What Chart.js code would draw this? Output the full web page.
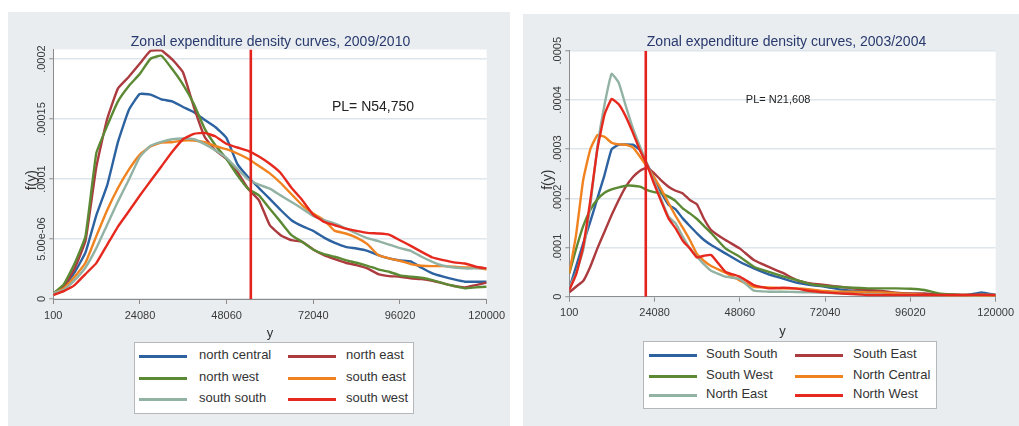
<!DOCTYPE html>
<html>
<head>
<meta charset="utf-8">
<title>Zonal expenditure density curves</title>
<script src="https://cdn.jsdelivr.net/npm/chart.js@4.4.1/dist/chart.umd.min.js"></script>
<style>
  html, body { margin: 0; padding: 0; background: #fff; width: 1019px; height: 426px; overflow: hidden;
               font-family: "Liberation Sans", Arial, sans-serif; }
  .panel { position: absolute; background: #e9edf0; overflow: hidden; }
  .panel canvas { position: absolute; left: 0; top: 0; }
  .legend { position: absolute; background: #fff; border: 1px solid #b4b8bb; box-sizing: border-box; }
  .legend .swatch { position: absolute; height: 3px; }
  .legend .name { position: absolute; font-size: 13px; color: #333; white-space: nowrap; line-height: 14px; }
</style>
</head>
<body>
<div class="panel" style="left:8px;top:12px;width:502px;height:414px;">
  <canvas id="c0910" width="502" height="330" style="width:502px;height:330px;"></canvas>
  <div class="legend" id="l0910" style="left:126px;top:330px;width:280px;height:72px;"></div>
</div>
<div class="panel" style="left:523px;top:14px;width:496px;height:412px;">
  <canvas id="c0304" width="496" height="326" style="width:496px;height:326px;"></canvas>
  <div class="legend" id="l0304" style="left:120px;top:327px;width:294px;height:68px;"></div>
</div>

<script>
// Kernel density estimates of household expenditure by zone.
// Densities are listed in units of 1e-5.
const UNIT = 1e-5;

// Shared axis ticks
const xTickValues = [100, 24080, 48060, 72040, 96020, 120000];
const xTickLabels = ['100', '24080', '48060', '72040', '96020', '120000'];

// ---- 2009/2010 ----
const title0910 = 'Zonal expenditure density curves, 2009/2010';
const povertyLine0910 = 54750;
const povertyText0910 = 'PL= N54,750';
const yTickValues0910 = [0, 0.00005, 0.0001, 0.00015, 0.0002];
const yTickLabels0910 = ['0', '5.00e-06', '.0001', '.00015', '.0002'];
const names0910 = ['north central', 'north east', 'north west', 'south east', 'south south', 'south west'];
const xs0910 = [100, 3000, 6000, 9000, 12000, 15000, 18000, 21000, 24000, 27000, 30000,
                33000, 36000, 39000, 42000, 45000, 48000, 51000, 54000, 57000, 60000,
                63000, 66000, 69000, 72000, 75000, 78000, 81000, 84000, 87000, 90000,
                93000, 96000, 99000, 102000, 105000, 108000, 111000, 114000, 117000, 120000];
const northCentral0910 = [0.47, 1.02, 2.22, 3.88, 6.98, 9.47, 13.10, 15.76, 17.09, 17.04, 16.65,
                          16.48, 16.01, 15.57, 14.93, 14.32, 13.43, 11.27, 10.17, 9.25, 8.34,
                          7.42, 6.57, 6.07, 5.68, 5.12, 4.68, 4.35, 4.21, 4.02, 3.66,
                          3.38, 3.21, 3.13, 2.60, 2.13, 1.86, 1.63, 1.44, 1.44, 1.44];
const northEast0910 = [0.47, 1.02, 2.55, 4.85, 11.00, 15.01, 17.56, 18.53, 19.61, 20.69, 20.72,
                       19.97, 18.89, 16.00, 13.50, 12.38, 11.69, 10.61, 9.19, 8.23, 6.15,
                       5.32, 4.90, 4.76, 4.13, 3.66, 3.32, 3.02, 2.83, 2.55, 2.08,
                       1.91, 1.86, 1.72, 1.66, 1.52, 1.30, 1.08, 0.97, 1.16, 1.36];
const northWest0910 = [0.47, 1.22, 2.96, 5.24, 12.16, 14.43, 16.48, 17.76, 18.75, 20.03, 20.28,
                       19.17, 17.87, 16.26, 14.18, 12.80, 11.69, 10.33, 9.19, 8.64, 7.53,
                       6.43, 5.32, 4.76, 4.13, 3.74, 3.52, 3.24, 3.02, 2.77, 2.47,
                       2.27, 1.97, 1.86, 1.77, 1.58, 1.30, 1.08, 0.89, 0.97, 1.02];
const southEast0910 = [0.47, 0.89, 1.86, 3.02, 5.24, 7.40, 9.25, 10.78, 12.02, 12.71, 13.05,
                       13.07, 13.21, 13.21, 13.07, 12.74, 12.49, 12.13, 11.69, 11.08, 10.47,
                       9.67, 8.73, 7.81, 7.12, 6.57, 5.68, 5.46, 5.12, 4.57, 3.66,
                       3.38, 3.19, 2.91, 2.77, 2.74, 2.74, 2.69, 2.63, 2.60, 2.47];
const southSouth0910 = [0.47, 0.78, 1.58, 2.63, 4.24, 6.20, 8.14, 9.94, 11.83, 12.77, 13.10,
                        13.32, 13.38, 13.32, 12.91, 12.38, 11.77, 10.86, 9.97, 9.53, 9.20,
                        8.64, 8.09, 7.53, 6.93, 6.57, 6.29, 5.90, 5.46, 5.07, 4.82,
                        4.54, 4.24, 4.02, 3.52, 3.10, 2.77, 2.63, 2.55, 2.55, 2.55];
const southWest0910 = [0.33, 0.66, 1.16, 2.08, 2.99, 4.52, 6.04, 7.31, 8.61, 9.83, 11.05,
                       12.27, 13.32, 13.77, 13.85, 13.55, 12.94, 12.63, 12.35, 11.88, 11.27,
                       10.50, 9.28, 8.23, 7.04, 6.43, 6.15, 5.87, 5.68, 5.51, 5.46,
                       5.37, 4.90, 4.43, 3.93, 3.46, 3.24, 3.05, 2.96, 2.69, 2.55];

// ---- 2003/2004 ----
const title0304 = 'Zonal expenditure density curves, 2003/2004';
const povertyLine0304 = 21608;
const povertyText0304 = 'PL= N21,608';
const yTickValues0304 = [0, 0.0001, 0.0002, 0.0003, 0.0004, 0.0005];
const yTickLabels0304 = ['0', '.0001', '.0002', '.0003', '.0004', '.0005'];
const names0304 = ['South South', 'South East', 'South West', 'North Central', 'North East', 'North West'];
const xs0304 = [100, 2000, 4000, 6000, 8000, 10000, 12000, 14000, 16000, 18000, 20000,
                22000, 24000, 26000, 28000, 30000, 32000, 34000, 36000, 38000, 40000,
                44000, 48000, 52000, 56000, 60000, 64000, 68000, 72000, 76000, 80000,
                84000, 88000, 92000, 96000, 100000, 104000, 108000, 112000, 116000, 120000];
const southSouth0304 = [1.69, 6.10, 10.84, 15.24, 19.99, 24.73, 29.95, 30.89, 30.96, 30.89, 29.81,
                        26.90, 24.05, 21.14, 18.70, 17.75, 15.92, 14.36, 12.87, 11.52, 10.50,
                        8.81, 7.11, 5.76, 4.61, 3.73, 2.85, 2.37, 2.03, 1.49, 1.22,
                        1.02, 0.95, 0.68, 0.54, 0.41, 0.34, 0.34, 0.34, 0.88, 0.34];
const southEast0304 = [0.88, 2.03, 3.18, 6.10, 9.82, 13.20, 16.60, 19.65, 22.36, 24.32, 25.61,
                       26.22, 25.07, 23.58, 22.36, 21.54, 21.00, 19.65, 18.77, 15.79, 13.55,
                       11.52, 9.82, 7.45, 6.10, 4.88, 3.39, 2.71, 2.37, 2.03, 1.69,
                       1.36, 1.15, 0.81, 0.68, 0.68, 0.47, 0.34, 0.34, 0.34, 0.27];
const southWest0304 = [4.74, 9.69, 14.36, 17.62, 19.78, 21.14, 21.82, 22.22, 22.56, 22.56, 22.36,
                       21.68, 21.27, 21.00, 20.33, 19.44, 17.95, 16.94, 15.79, 14.36, 12.94,
                       9.82, 8.13, 6.10, 5.08, 4.20, 3.39, 2.57, 2.17, 1.96, 1.83,
                       1.69, 1.69, 1.69, 1.63, 1.36, 0.68, 0.47, 0.34, 0.41, 0.34];
const northCentral0304 = [4.74, 12.53, 23.71, 29.95, 32.86, 32.50, 31.30, 30.96, 30.89, 30.35, 28.46,
                          26.42, 24.19, 21.75, 19.04, 16.40, 14.02, 11.52, 8.67, 7.25, 6.23,
                          4.88, 3.32, 2.03, 1.90, 1.69, 1.69, 1.49, 1.15, 1.02, 1.02,
                          0.88, 0.88, 0.68, 0.54, 0.34, 0.27, 0.20, 0.20, 0.20, 0.20];
const northEast0304 = [1.90, 4.74, 9.49, 18.50, 30.50, 39.00, 45.30, 43.50, 38.75, 34.21, 30.49,
                       26.90, 23.37, 19.65, 16.26, 14.90, 12.20, 9.82, 8.13, 6.57, 5.28,
                       4.07, 3.59, 1.22, 1.02, 1.02, 0.95, 0.88, 0.81, 0.68, 0.54,
                       0.47, 0.41, 0.34, 0.34, 0.27, 0.27, 0.27, 0.27, 0.34, 0.34];
const northWest0304 = [1.36, 4.47, 10.16, 19.50, 30.00, 37.00, 40.20, 39.10, 36.60, 33.30, 29.70,
                       26.76, 22.83, 19.31, 15.92, 13.89, 11.38, 9.82, 7.99, 8.33, 8.47,
                       5.08, 4.07, 2.37, 1.69, 1.83, 1.63, 1.15, 0.88, 0.68, 0.54,
                       0.34, 0.34, 0.34, 0.34, 0.34, 0.34, 0.34, 0.34, 0.41, 0.34];

// Line colours, in legend order
const palette = ['#2d62a0', '#ab3b3e', '#5c8a34', '#f0831f', '#92b2a3', '#e6291f'];
const povertyLineColor = '#e3231e';
const FONT = '"Liberation Sans", Arial, sans-serif';

// Draws the plot background, rotated y tick labels, the f(y) axis title and the PL note
const panelText = {
  id: 'panelText',
  beforeDraw(chart) {
    const a = chart.chartArea, ctx = chart.ctx;
    ctx.save();
    ctx.fillStyle = '#ffffff';
    ctx.fillRect(a.left, a.top, a.right - a.left, a.bottom - a.top);
    ctx.restore();
  },
  afterDraw(chart, args, o) {
    const a = chart.chartArea, ctx = chart.ctx, ys = chart.scales.y, xsc = chart.scales.x;
    ctx.save();
    ctx.fillStyle = '#3a3a3a';
    ctx.textAlign = 'center';
    ctx.textBaseline = 'middle';
    ctx.font = '11px ' + FONT;
    o.tickValues.forEach((v, i) => {
      ctx.save();
      ctx.translate(a.left - o.tickGap, ys.getPixelForValue(v));
      ctx.rotate(-Math.PI / 2);
      ctx.fillText(o.tickLabels[i], 0, 0);
      ctx.restore();
    });
    ctx.save();
    ctx.font = '14px ' + FONT;
    ctx.fillStyle = '#333';
    ctx.translate(a.left - o.titleGap, (a.top + a.bottom) / 2 + 6);
    ctx.rotate(-Math.PI / 2);
    ctx.fillText('f(y)', 0, 0);
    ctx.restore();
    ctx.font = o.noteFont;
    ctx.fillStyle = '#222';
    ctx.textAlign = 'left';
    ctx.fillText(o.note, xsc.getPixelForValue(o.noteX), ys.getPixelForValue(o.noteY));
    ctx.restore();
  }
};

function buildPanel(cfg) {
  const datasets = cfg.series.map((vals, i) => ({
    label: cfg.names[i],
    data: cfg.xs.map((x, j) => ({ x: x, y: vals[j] * UNIT })),
    borderColor: palette[i],
    borderWidth: 2.4,
    pointRadius: 0,
    fill: false,
    tension: 0.12,
    order: cfg.series.length - i
  }));
  datasets.push({
    label: 'PL',
    data: [{ x: cfg.pl, y: 0 }, { x: cfg.pl, y: cfg.yMax }],
    borderColor: povertyLineColor,
    borderWidth: 2.6,
    pointRadius: 0,
    fill: false,
    order: 0
  });

  const chart = new Chart(document.getElementById(cfg.canvas), {
    type: 'line',
    data: { datasets: datasets },
    plugins: [panelText],
    options: {
      responsive: false,
      animation: false,
      devicePixelRatio: 1,
      layout: { autoPadding: false, padding: cfg.padding },
      plugins: {
        legend: { display: false },
        tooltip: { enabled: false },
        title: {
          display: true,
          text: cfg.title,
          color: '#28396d',
          font: { family: FONT, size: 14, weight: 'normal', lineHeight: 1 },
          padding: cfg.titlePadding
        },
        panelText: {
          tickValues: cfg.yTickValues, tickLabels: cfg.yTickLabels,
          tickGap: cfg.tickGap, titleGap: 21,
          note: cfg.note, noteX: cfg.noteX, noteY: cfg.noteY, noteFont: cfg.noteFont
        }
      },
      scales: {
        x: {
          type: 'linear',
          min: 100, max: 120000,
          afterBuildTicks: s => { s.ticks = xTickValues.map(v => ({ value: v })); },
          afterFit: s => { s.height = cfg.xAxisHeight; },
          ticks: {
            autoSkip: false, maxRotation: 0, minRotation: 0, padding: 5,
            color: '#3a3a3a', font: { family: FONT, size: 11 },
            callback: (v, i) => xTickLabels[i]
          },
          grid: { drawOnChartArea: false, drawTicks: true, tickLength: 5, tickColor: '#8c8c8c', tickWidth: 1 },
          border: { display: true, color: '#8c8c8c', width: 1 },
          title: { display: true, text: 'y', color: '#333', padding: 0,
                   font: { family: FONT, size: 13, lineHeight: 1.2 } }
        },
        y: {
          type: 'linear',
          min: 0, max: cfg.yMax,
          afterBuildTicks: s => { s.ticks = cfg.yTickValues.map(v => ({ value: v })); },
          afterFit: s => { s.width = cfg.yAxisWidth; },
          ticks: { display: false },
          grid: { color: '#dde6ec', lineWidth: 1.5, drawTicks: true, tickLength: 4, tickColor: '#8c8c8c', tickWidth: 1 },
          border: { display: true, color: '#8c8c8c', width: 1 }
        }
      }
    }
  });

  // Legend box: two columns, filled row by row from the chart's own datasets
  const box = document.getElementById(cfg.legend);
  chart.data.datasets.slice(0, cfg.names.length).forEach((ds, i) => {
    const col = i % 2, row = Math.floor(i / 2);
    const sw = document.createElement('div');
    sw.className = 'swatch';
    sw.style.left = cfg.legendLayout.swatchX[col] + 'px';
    sw.style.width = '48px';
    sw.style.top = (cfg.legendLayout.rowY[row] - 1.5) + 'px';
    sw.style.background = ds.borderColor;
    box.appendChild(sw);
    const tx = document.createElement('div');
    tx.className = 'name';
    tx.textContent = ds.label;
    tx.style.left = cfg.legendLayout.textX[col] + 'px';
    tx.style.top = (cfg.legendLayout.rowY[row] - 8) + 'px';
    box.appendChild(tx);
  });
  return chart;
}

buildPanel({
  canvas: 'c0910', legend: 'l0910', title: title0910,
  names: names0910, xs: xs0910,
  series: [northCentral0910, northEast0910, northWest0910, southEast0910, southSouth0910, southWest0910],
  pl: povertyLine0910, yMax: 0.000208,
  yTickValues: yTickValues0910, yTickLabels: yTickLabels0910,
  padding: { left: 41.7, right: 18.7, top: 0, bottom: 1.2 },
  titlePadding: { top: 23, bottom: 0.5 },
  yAxisWidth: 3.6, xAxisHeight: 41.8, tickGap: 11.6,
  note: povertyText0910, noteX: 77200, noteY: 0.00016, noteFont: '14px ' + FONT,
  legendLayout: { rowY: [13, 35, 56], swatchX: [4, 153], textX: [64, 211] }
});

buildPanel({
  canvas: 'c0304', legend: 'l0304', title: title0304,
  names: names0304, xs: xs0304,
  series: [southSouth0304, southEast0304, southWest0304, northCentral0304, northEast0304, northWest0304],
  pl: povertyLine0304, yMax: 0.0005,
  yTickValues: yTickValues0304, yTickLabels: yTickLabels0304,
  padding: { left: 42.3, right: 11.3, top: 0, bottom: 1.2 },
  titlePadding: { top: 21, bottom: 1.7 },
  yAxisWidth: 4.0, xAxisHeight: 42.1, tickGap: 11,
  note: povertyText0304, noteX: 49750, noteY: 0.0004, noteFont: '11px ' + FONT,
  legendLayout: { rowY: [13, 34, 53], swatchX: [5, 151], textX: [62, 209] }
});
</script>
</body>
</html>
